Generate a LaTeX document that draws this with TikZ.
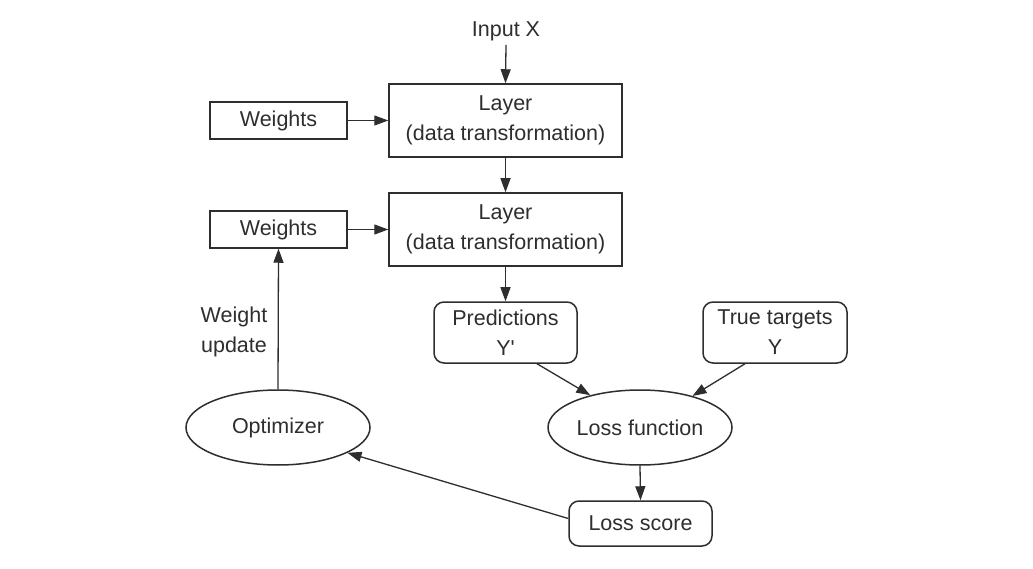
\documentclass[tikz,border=0pt]{standalone}
\usepackage{fontspec}
\setmainfont{Liberation Sans}
\newfontfamily\plainsans{Liberation Sans}
\usetikzlibrary{arrows.meta,shapes.geometric}
\definecolor{ink}{HTML}{2E2E2E}
\begin{document}
\begin{tikzpicture}[x=1pt,y=-1pt,
  font=\fontsize{21.5}{30}\selectfont,
  box/.style={draw=ink, line width=1.5pt, text=ink, align=center, inner sep=0pt},
  rbox/.style={box, rounded corners=10pt},
  oval/.style={ellipse, draw=ink, line width=1.5pt, text=ink, inner sep=0pt, minimum width=184pt, minimum height=75pt},
  lbl/.style={text=ink, align=center, inner sep=0pt},
  arr/.style={draw=ink, line width=1.3pt, -{Triangle[length=14pt,width=10pt]}}]
\useasboundingbox[fill=white] (0,0) rectangle (1033,569);
\node[lbl, inner sep=4pt] (in) at (506,31) {Input X};
\node[box, minimum width=233pt, minimum height=73pt] (l1) at (505.5,120.5) {Layer\\(data transformation)};
\node[box, minimum width=233pt, minimum height=73pt] (l2) at (505.5,229.5) {Layer\\(data transformation)};
\node[box, minimum width=137pt, minimum height=37pt] (w1) at (278.5,120.5) {Weights};
\node[box, minimum width=137pt, minimum height=37pt] (w2) at (278.5,229.5) {Weights};
\node[rbox, minimum width=143pt, minimum height=61pt] (pred) at (505.5,332.5) {Predictions\\{\plainsans Y'}};
\node[rbox, minimum width=144pt, minimum height=61pt] (tt) at (775,332.5) {True targets\\Y};
\node[oval] (lf) at (640,427.5) {Loss function};
\node[oval] (opt) at (278,427.5) {Optimizer};
\node[rbox, minimum width=143pt, minimum height=45pt] (ls) at (640.5,523.5) {Loss score};
\node[lbl] (wu) at (234,332) {Weight\\update};
\draw[arr] (in.south) -- (l1.north);
\draw[arr] (w1.east) -- (l1.west);
\draw[arr] (l1.south) -- (l2.north);
\draw[arr] (w2.east) -- (l2.west);
\draw[arr] (l2.south) -- (pred.north);
\draw[arr] ([xshift=31.5pt]pred.south) -- (lf.147);
\draw[arr] ([xshift=-30pt]tt.south) -- (lf.31);
\draw[arr] (lf.south) -- (ls.north);
\draw[arr] ([yshift=5pt]ls.west) -- (opt.-20);
\draw[arr] (opt.north) -- (w2.south);
\end{tikzpicture}
\end{document}
